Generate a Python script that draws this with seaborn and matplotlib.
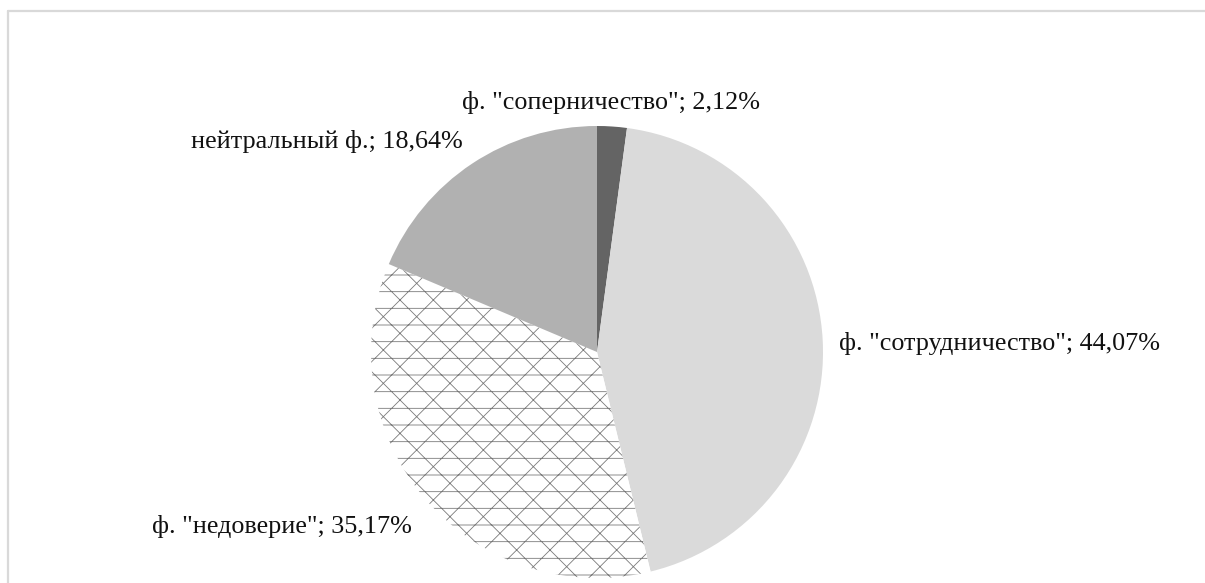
import seaborn as sns
import matplotlib.pyplot as plt
from matplotlib.lines import Line2D

# data (clockwise from 12 o'clock)
categories = ['ф. "соперничество"', 'ф. "сотрудничество"', 'ф. "недоверие"', 'нейтральный ф.']
shares = [2.12, 44.07, 35.17, 18.64]
colors = ["#646464", "#dadada", "#ffffff", "#b1b1b1"]
hatches = [None, None, "x-", None]
# label anchor points in pie-radius units (centre of the text, baseline)
label_pos = [(0.062, 1.075), (1.783, 0.009), (-1.392, -0.801), (-1.195, 0.903)]

sns.set_theme(style="white")
plt.rcParams["font.family"] = ["Liberation Serif", "DejaVu Serif"]
plt.rcParams["hatch.linewidth"] = 0.6

fig = plt.figure(figsize=(12.05, 5.83), dpi=100)
ax = fig.add_axes([0, 0, 1, 1])

wedges, _ = ax.pie(
    shares,
    colors=colors,
    startangle=90,
    counterclock=False,
    radius=1,
    wedgeprops=dict(linewidth=0, edgecolor="#7a7a7a"),
)
for w, h in zip(wedges, hatches):
    if h:
        w.set_hatch(h)

for cat, val, (x, y) in zip(categories, shares, label_pos):
    txt = f"{cat}; " + f"{val:.2f}".replace(".", ",") + "%"
    ax.text(x, y, txt, ha="center", va="baseline", fontsize=18.8, color="#111111")

# pie centre at (597, 352) px, radius 226 px
ax.set_xlim(-597 / 226, (1205 - 597) / 226)
ax.set_ylim(-(583 - 352) / 226, 352 / 226)
ax.set_aspect("auto")
ax.axis("off")

# light grey chart frame (left and top edges are visible)
W, H = 1205, 583
fig.add_artist(Line2D([8 / W, 8 / W], [0, 1 - 11 / H], transform=fig.transFigure, color="#d9d9d9", lw=1.6))
fig.add_artist(Line2D([8 / W, 1], [1 - 11 / H, 1 - 11 / H], transform=fig.transFigure, color="#d9d9d9", lw=1.6))

plt.savefig("out.png", dpi=100)
